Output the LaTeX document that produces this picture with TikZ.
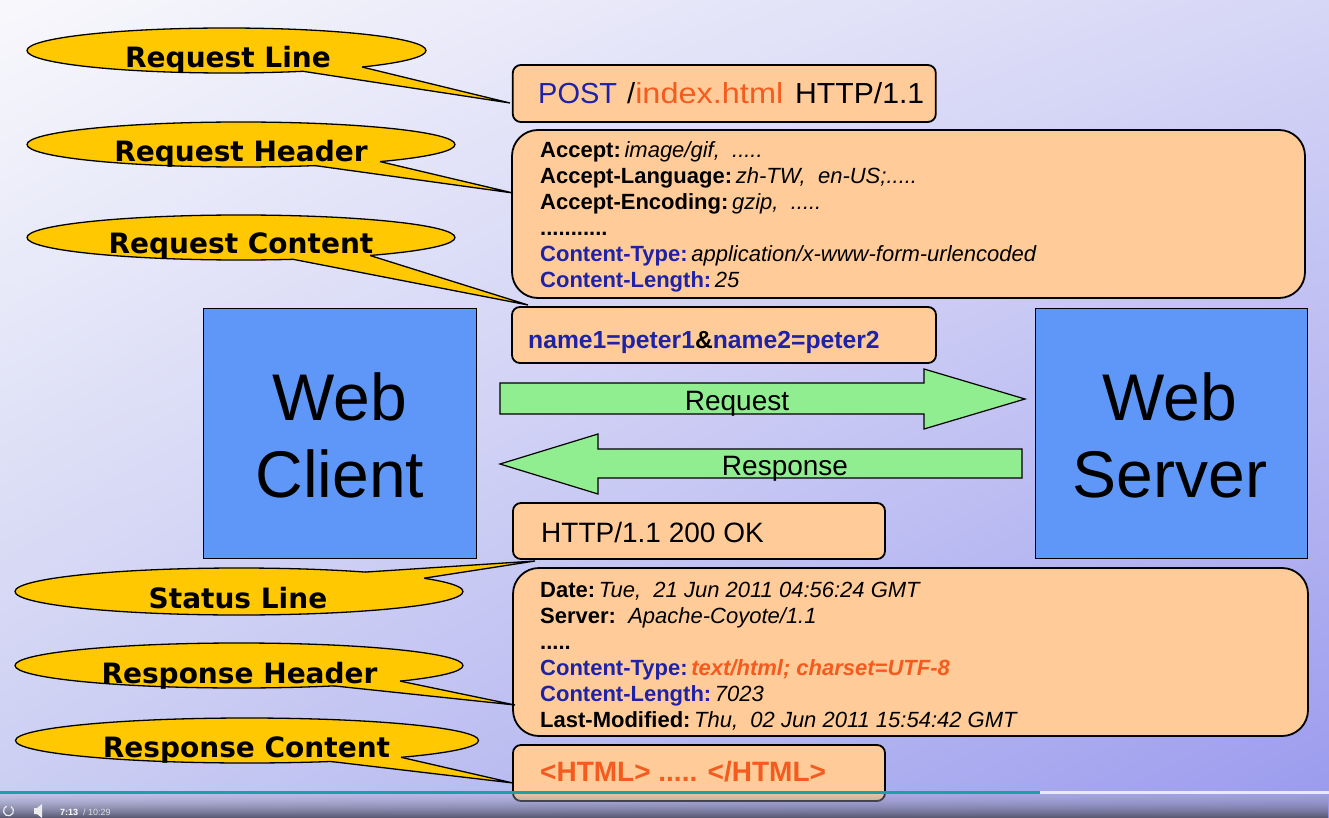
\documentclass[tikz,border=0pt]{standalone}
\usepackage{fontspec}
\usepackage{graphicx}
\setmainfont{Liberation Sans}
\newfontfamily\callfont{DejaVu Sans}
\usetikzlibrary{shapes.geometric,shadings,fadings}
\definecolor{bgUL}{HTML}{F8F8FC}
\definecolor{bgUR}{HTML}{D6D6F6}
\definecolor{bgLL}{HTML}{CACDF2}
\definecolor{bgLR}{HTML}{9A9AEE}
\definecolor{gold}{HTML}{FFC800}
\definecolor{peach}{HTML}{FFCC99}
\definecolor{hblue}{HTML}{1E22A8}
\definecolor{horange}{HTML}{F55A1E}
\definecolor{webblue}{HTML}{5F97F8}
\definecolor{agreen}{HTML}{90EE90}
\definecolor{teal}{HTML}{1AA0A8}
\definecolor{barTop}{HTML}{A8A8CC}
\definecolor{barBot}{HTML}{55556E}
\tikzfading[name=barfade, top color=transparent!75, bottom color=transparent!0]
\newcommand\hdlab[1]{\textbf{#1}}
\newcommand\hdblue[1]{\textcolor{hblue}{\textbf{#1}}}
\newcommand\hdval[1]{\textit{#1}}
\tikzset{
  callout/.style={ellipse, fill=gold, draw=black, line width=1.3pt, inner sep=0pt},
  tailfill/.style={fill=gold},
  tailline/.style={draw=black, line width=1.3pt, line join=miter},
  calltext/.style={font=\callfont\bfseries\fontsize{28}{30}\selectfont, anchor=base, inner sep=0pt},
  infobox/.style={rectangle, fill=peach, draw=black, line width=1.8pt, rounded corners=8pt, inner sep=0pt},
  bigbox/.style={infobox, rounded corners=26pt},
  webbox/.style={rectangle, fill=webblue, draw=black, line width=0.8pt, inner sep=0pt},
  webtext/.style={font=\fontsize{66}{70}\selectfont, anchor=base, inner sep=0pt},
  hdr/.style={font=\fontsize{22}{25}\selectfont, anchor=base west, inner sep=0pt},
  linetext/.style={font=\fontsize{28}{30}\selectfont, anchor=base west, inner sep=0pt},
  arrowshape/.style={fill=agreen, draw=black, line width=1.2pt, line join=miter},
  arrowtext/.style={font=\fontsize{28}{30}\selectfont, anchor=base, inner sep=0pt},
}
\begin{document}
\begin{tikzpicture}[x=1pt,y=-1pt]
\useasboundingbox (0,0) rectangle (1329,818);
\shade[upper left=bgUL, upper right=bgUR, lower left=bgLL, lower right=bgLR] (0,0) rectangle (1329,818);

% ---------- boxes ----------
\node[infobox, minimum width=423pt, minimum height=57pt] (rline) at (724.3,93.5) {};
\node[bigbox, minimum width=793pt, minimum height=168pt] (rhead) at (908.5,214) {};
\node[infobox, minimum width=424pt, minimum height=56pt] (rcont) at (724,335) {};
\node[webbox, minimum width=273pt, minimum height=250pt] (client) at (339.5,433) {};
\node[webbox, minimum width=272pt, minimum height=250pt] (server) at (1171,433) {};
\node[infobox, minimum width=372pt, minimum height=56pt] (sline) at (699,531) {};
\node[bigbox, minimum width=795pt, minimum height=168pt] (shead) at (910.5,652) {};
\node[infobox, minimum width=372pt, minimum height=56pt] (scont) at (699,773) {};

% ---------- box texts ----------
\node[linetext, font=\fontsize{29}{31}\selectfont] (t1) at (538,104) {\makebox[89pt][l]{\textcolor{hblue}{POST}}\makebox[168pt][l]{/\scalebox{1.12}[1]{\textcolor{horange}{index.html}}}\scalebox{1.04}[1]{HTTP/1.1}};
\node[hdr] (h1) at (540,158) {\hdlab{Accept:}\,\hdval{image/gif,\ \ .....}};
\node[hdr] (h2) at (540,183.8) {\hdlab{Accept-Language:}\,\hdval{zh-TW,\ \ en-US;.....}};
\node[hdr] (h3) at (540,209.6) {\hdlab{Accept-Encoding:}\,\hdval{gzip,\ \ .....}};
\node[hdr] (h4) at (540,235.4) {\hdlab{...........}};
\node[hdr] (h5) at (540,261.2) {\hdblue{Content-Type:}\,\hdval{application/x-www-form-urlencoded}};
\node[hdr] (h6) at (540,287) {\hdblue{Content-Length:}\,\hdval{25}};
\node[linetext, font=\bfseries\fontsize{24.7}{27}\selectfont, text=hblue] (t2) at (528,348) {name1=peter1\textcolor{black}{\&}name2=peter2};
\node[linetext, font=\fontsize{28}{30}\selectfont] (t3) at (541,542) {HTTP/1.1 200 OK};
\node[hdr] (s1) at (540,597) {\hdlab{Date:}\,\hdval{Tue,\ \ 21 Jun 2011 04:56:24 GMT}};
\node[hdr] (s2) at (540,623) {\hdlab{Server:}\ \ \hdval{Apache-Coyote/1.1}};
\node[hdr] (s3) at (540,649) {\hdlab{.....}};
\node[hdr] (s4) at (540,675) {\hdblue{Content-Type:}\,\textcolor{horange}{\textbf{\textit{text/html; charset=UTF-8}}}};
\node[hdr] (s5) at (540,701) {\hdblue{Content-Length:}\,\hdval{7023}};
\node[hdr] (s6) at (540,727) {\hdlab{Last-Modified:}\,\hdval{Thu,\ \ 02 Jun 2011 15:54:42 GMT}};
\node[linetext, font=\bfseries\fontsize{28}{30}\selectfont, text=horange] (t4) at (540,781) {<HTML> ..... </HTML>};

% ---------- web boxes text ----------
\node[webtext] (w1) at (340,420) {Web};
\node[webtext] (w2) at (340,497) {Client};
\node[webtext] (w3) at (1170,420) {Web};
\node[webtext] (w4) at (1170,497) {Server};

% ---------- arrows ----------
\draw[arrowshape] (500,383) -- (924,383) -- (924,369) -- (1025,399) -- (924,429) -- (924,414) -- (500,414) -- cycle;
\node[arrowtext] (req) at (737,410) {Request};
\draw[arrowshape] (500,464) -- (598,434) -- (598,449) -- (1022,449) -- (1022,478) -- (598,478) -- (598,494) -- cycle;
\node[arrowtext] (resp) at (785,475) {Response};

% ---------- callouts ----------
% Request Line
\node[callout, minimum width=399pt, minimum height=45pt] (c1) at (226.5,50.5) {};
\coordinate (c1tip) at (510,103);
\fill[tailfill] (303,71.3) -- (c1tip) -- (362,67) -- (362,59) -- (303,63) -- cycle;
\draw[tailline] (303,71.3) -- (c1tip) -- (362,67);
\node[calltext] (l1) at (228,68) {Request Line};
% Request Header
\node[callout, minimum width=428pt, minimum height=45pt] (c2) at (241,144.5) {};
\coordinate (c2tip) at (513,193);
\fill[tailfill] (315,165.6) -- (c2tip) -- (380,161.6) -- (380,153) -- (315,157) -- cycle;
\draw[tailline] (315,165.6) -- (c2tip) -- (380,161.6);
\node[calltext] (l2) at (241,162) {Request Header};
% Request Content
\node[callout, minimum width=428pt, minimum height=45pt] (c3) at (241,237.5) {};
\coordinate (c3tip) at (528,305);
\fill[tailfill] (293,259.3) -- (c3tip) -- (370,255.5) -- (370,247) -- (293,251) -- cycle;
\draw[tailline] (293,259.3) -- (c3tip) -- (370,255.5);
\node[calltext] (l3) at (241,254) {Request Content};
% Status Line
\node[callout, minimum width=448pt, minimum height=47pt] (c4) at (239,591.5) {};
\coordinate (c4tip) at (535,561);
\fill[tailfill] (365,572.1) -- (c4tip) -- (424,578.2) -- (424,586) -- (365,580) -- cycle;
\draw[tailline] (365,572.1) -- (c4tip) -- (424,578.2);
\node[calltext] (l4) at (238,608) {Status Line};
% Response Header
\node[callout, minimum width=448pt, minimum height=45pt] (c5) at (239,665.5) {};
\coordinate (c5tip) at (515,705);
\fill[tailfill] (334,685.9) -- (c5tip) -- (400,681.1) -- (400,673) -- (334,677) -- cycle;
\draw[tailline] (334,685.9) -- (c5tip) -- (400,681.1);
\node[calltext] (l5) at (239.5,683) {Response Header};
% Response Content
\node[callout, minimum width=463pt, minimum height=45pt] (c6) at (247,740.5) {};
\coordinate (c6tip) at (513,783);
\fill[tailfill] (331,761.5) -- (c6tip) -- (401,757.3) -- (401,749) -- (331,753) -- cycle;
\draw[tailline] (331,761.5) -- (c6tip) -- (401,757.3);
\node[calltext] (l6) at (246.5,757) {Response Content};

% ---------- player bar ----------
\shade[top color=barTop, bottom color=barBot, path fading=barfade] (0,793) rectangle (1329,818);
\draw[line width=2.5pt, teal] (0,792.5) -- (1040,792.5);
\draw[line width=2.5pt, color=white!75!barTop] (1040,792.5) -- (1329,792.5);
\draw[line width=1.2pt, white!85!gray] (11,806.5) arc[start angle=60, end angle=-250, radius=5pt];
\fill[white!85!gray] (34,808) -- (37,808) -- (42,804) -- (42,818) -- (37,814) -- (34,814) -- cycle;
\node[font=\bfseries\fontsize{9}{10}\selectfont, text=white, anchor=base west, inner sep=0pt] (tm1) at (60,815) {7:13};
\node[font=\fontsize{9}{10}\selectfont, text=white!75!gray, anchor=base west, inner sep=0pt] (tm2) at (83,815) {/ 10:29};
\end{tikzpicture}
\end{document}
